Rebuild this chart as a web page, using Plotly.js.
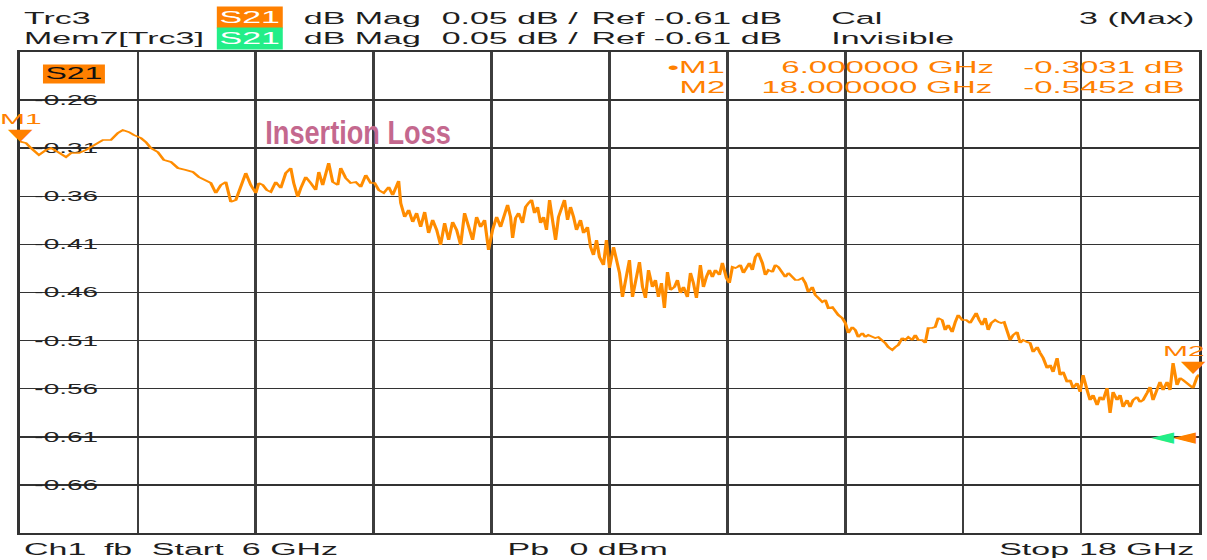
<!DOCTYPE html>
<html>
<head>
<meta charset="utf-8">
<script src="https://cdn.plot.ly/plotly-3.0.1.min.js"></script>
<style>
  html, body { margin:0; padding:0; background:#fff; overflow:hidden; width:1207px; height:560px; }
  /* the instrument screen is a horizontally stretched capture: draw at half width and stretch */
  #chart { width:604px; height:560px; transform:scale(1.99834,1); transform-origin:0 0; }
  /* the overlaid caption is not stretched in the reference */
  #chart g.annotation[data-index="0"] text { transform-box:fill-box; transform-origin:50% 50%; transform:scaleX(0.4); }
</style>
</head>
<body>
<div id="chart"></div>
<script>
// ---------------- data ----------------
const freqGHz = [
  6.000,6.061,6.112,6.193,6.264,6.315,6.386,6.468,6.519,6.600,
  6.671,6.722,6.773,6.844,6.925,6.997,7.047,7.108,7.159,7.231,
  7.281,7.332,7.403,7.464,7.536,7.607,7.688,7.759,7.820,7.892,
  7.942,7.993,8.044,8.095,8.146,8.197,8.247,8.298,8.349,8.400,
  8.431,8.471,8.512,8.553,8.603,8.654,8.705,8.756,8.786,8.827,
  8.858,8.908,8.959,9.010,9.041,9.081,9.142,9.183,9.234,9.264,
  9.315,9.366,9.417,9.468,9.519,9.569,9.610,9.651,9.702,9.753,
  9.793,9.834,9.854,9.875,9.915,9.956,9.997,10.037,10.078,10.119,
  10.159,10.200,10.241,10.281,10.322,10.363,10.403,10.444,10.485,10.525,
  10.566,10.607,10.647,10.688,10.729,10.769,10.810,10.851,10.892,10.922,
  10.963,10.993,11.014,11.044,11.075,11.115,11.146,11.176,11.207,11.237,
  11.268,11.298,11.329,11.359,11.390,11.420,11.451,11.481,11.512,11.542,
  11.573,11.603,11.634,11.664,11.705,11.736,11.776,11.807,11.837,11.868,
  11.898,11.939,11.969,12.000,12.041,12.071,12.102,12.132,12.173,12.203,
  12.234,12.275,12.305,12.336,12.366,12.397,12.437,12.468,12.498,12.529,
  12.559,12.590,12.620,12.661,12.692,12.722,12.753,12.793,12.824,12.854,
  12.885,12.925,12.956,12.986,13.017,13.047,13.078,13.119,13.149,13.190,
  13.220,13.251,13.281,13.302,13.332,13.363,13.393,13.424,13.454,13.485,
  13.515,13.556,13.586,13.617,13.658,13.688,13.719,13.759,13.790,13.820,
  13.861,13.892,13.922,13.963,13.993,14.024,14.064,14.095,14.125,14.166,
  14.197,14.227,14.268,14.298,14.329,14.369,14.400,14.431,14.471,14.502,
  14.532,14.573,14.603,14.634,14.675,14.705,14.736,14.776,14.807,14.837,
  14.878,14.908,14.939,14.980,15.010,15.041,15.081,15.112,15.142,15.183,
  15.214,15.244,15.285,15.315,15.346,15.386,15.417,15.447,15.488,15.519,
  15.549,15.590,15.631,15.671,15.702,15.732,15.763,15.793,15.824,15.854,
  15.885,15.925,15.956,15.986,16.017,16.047,16.078,16.108,16.149,16.180,
  16.210,16.251,16.281,16.312,16.353,16.383,16.414,16.454,16.485,16.515,
  16.556,16.586,16.617,16.658,16.688,16.719,16.759,16.790,16.820,16.861,
  16.892,16.922,16.963,16.993,17.024,17.064,17.095,17.125,17.166,17.197,
  17.227,17.268,17.298,17.329,17.369,17.400,17.431,17.471,17.502,17.532,
  17.573,17.603,17.634,17.675,17.705,17.736,17.776,17.807,17.837,17.878,
  17.908,17.939,17.980,18.000
];
const s21dB = [
  -0.3031,-0.3046,-0.3098,-0.3171,-0.3119,-0.3098,-0.3140,-0.3192,-0.3150,-0.3150,
  -0.3119,-0.3088,-0.3046,-0.3015,-0.3015,-0.2942,-0.2911,-0.2932,-0.2963,-0.2994,
  -0.3036,-0.3098,-0.3140,-0.3223,-0.3243,-0.3306,-0.3327,-0.3347,-0.3399,-0.3431,
  -0.3462,-0.3566,-0.3483,-0.3451,-0.3659,-0.3638,-0.3514,-0.3358,-0.3483,-0.3566,
  -0.3462,-0.3483,-0.3535,-0.3555,-0.3451,-0.3514,-0.3358,-0.3306,-0.3462,-0.3607,
  -0.3514,-0.3399,-0.3462,-0.3535,-0.3347,-0.3483,-0.3254,-0.3451,-0.3483,-0.3306,
  -0.3410,-0.3462,-0.3451,-0.3503,-0.3379,-0.3462,-0.3462,-0.3535,-0.3566,-0.3503,
  -0.3587,-0.3503,-0.3441,-0.3670,-0.3815,-0.3742,-0.3867,-0.3774,-0.3919,-0.3763,
  -0.3982,-0.3846,-0.3950,-0.4106,-0.3878,-0.4054,-0.3867,-0.3950,-0.4106,-0.3774,
  -0.3919,-0.4054,-0.3815,-0.3919,-0.3846,-0.4158,-0.3950,-0.3815,-0.3919,-0.3815,
  -0.3690,-0.3815,-0.4034,-0.3826,-0.3774,-0.3878,-0.3711,-0.3670,-0.3638,-0.3774,
  -0.3711,-0.3878,-0.3815,-0.3950,-0.3638,-0.3846,-0.4054,-0.3815,-0.3711,-0.3638,
  -0.3846,-0.3711,-0.3815,-0.3950,-0.3846,-0.3982,-0.3919,-0.4127,-0.4210,-0.4054,
  -0.4231,-0.4314,-0.4054,-0.4345,-0.4127,-0.4283,-0.4397,-0.4647,-0.4439,-0.4262,
  -0.4647,-0.4470,-0.4283,-0.4543,-0.4657,-0.4366,-0.4543,-0.4470,-0.4647,-0.4501,
  -0.4761,-0.4387,-0.4574,-0.4543,-0.4470,-0.4605,-0.4543,-0.4647,-0.4397,-0.4501,
  -0.4657,-0.4314,-0.4543,-0.4439,-0.4366,-0.4439,-0.4366,-0.4418,-0.4293,-0.4449,
  -0.4501,-0.4335,-0.4345,-0.4335,-0.4314,-0.4397,-0.4335,-0.4293,-0.4366,-0.4231,
  -0.4189,-0.4293,-0.4418,-0.4366,-0.4387,-0.4314,-0.4335,-0.4387,-0.4439,-0.4397,
  -0.4449,-0.4470,-0.4470,-0.4449,-0.4501,-0.4595,-0.4543,-0.4626,-0.4657,-0.4699,
  -0.4678,-0.4761,-0.4751,-0.4803,-0.4834,-0.4865,-0.4917,-0.5021,-0.4959,-0.4990,
  -0.5063,-0.5021,-0.5063,-0.5042,-0.5063,-0.5073,-0.5063,-0.5094,-0.5125,-0.5167,
  -0.5198,-0.5167,-0.5146,-0.5073,-0.5094,-0.5063,-0.5094,-0.5042,-0.5094,-0.5094,
  -0.5125,-0.4969,-0.4969,-0.4959,-0.4865,-0.4886,-0.4990,-0.4938,-0.5011,-0.4907,
  -0.4834,-0.4886,-0.4886,-0.4917,-0.4865,-0.4813,-0.4886,-0.4938,-0.4865,-0.4990,
  -0.4917,-0.4886,-0.4907,-0.4917,-0.4907,-0.5011,-0.5094,-0.5042,-0.5011,-0.5125,
  -0.5094,-0.5115,-0.5125,-0.5219,-0.5167,-0.5229,-0.5281,-0.5385,-0.5354,-0.5426,
  -0.5281,-0.5458,-0.5426,-0.5530,-0.5510,-0.5593,-0.5541,-0.5634,-0.5458,-0.5614,
  -0.5718,-0.5666,-0.5770,-0.5686,-0.5718,-0.5593,-0.5853,-0.5634,-0.5718,-0.5666,
  -0.5790,-0.5718,-0.5790,-0.5718,-0.5686,-0.5738,-0.5718,-0.5645,-0.5582,-0.5718,
  -0.5614,-0.5530,-0.5614,-0.5530,-0.5614,-0.5333,-0.5562,-0.5489,-0.5510,-0.5541,
  -0.5562,-0.5593,-0.5479,-0.5452
];
const markerNames = ['M1', 'M2'];
const markerFreqGHz = [6, 18];
const markerDB = [-0.3031, -0.5452];
const yTickVals = [-0.26, -0.31, -0.36, -0.41, -0.46, -0.51, -0.56, -0.61, -0.66];
const yTickText = ['-0.26', '-0.31', '-0.36', '-0.41', '-0.46', '-0.51', '-0.56', '-0.61', '-0.66'];
const yRange = [-0.71, -0.21];
const refLevelDB = -0.61;
const dBPerDiv = 0.05;
const freqStepGHz = 1.2;
const traceName = 'S21';
const caption = 'Insertion Loss';

// ---------------- styling ----------------
const FONT = 'Liberation Sans, Arial, sans-serif';
const SYM = 'DejaVu Sans, sans-serif';
const INK = '#1e1e1e';
const ORANGE = '#ff8000';
const TRACE = '#ff8c00';
const GREEN = '#22ee88';

function label(text, x, y, xanchor, extra) {
  return Object.assign({
    text: text, xref: 'paper', yref: 'paper', x: x, y: y,
    xanchor: xanchor, yanchor: 'middle', showarrow: false, borderpad: 0,
    font: { family: FONT, size: 17, color: INK }
  }, extra || {});
}

const fStart = freqGHz[0];
const fStop = freqGHz[freqGHz.length - 1];
const refTxt = 'Ref ' + refLevelDB.toFixed(2) + ' dB';
const scaleTxt = dBPerDiv.toFixed(2) + ' dB /';

const row1 = 1.0696, row2 = 1.0291, rowB = -0.0333;

const annotations = [
  // index 0: caption (counter-scaled by CSS)
  { text: caption, xref: 'paper', yref: 'paper', x: 0.2871, y: 0.8337,
    xanchor: 'center', yanchor: 'middle', showarrow: false,
    font: { family: FONT, size: 34, color: '#c4688e', weight: 700 } },

  // header
  label('Trc3', 0.0017, row1, 'left'),
  label(traceName, 0.1955, 1.0708, 'center', { bgcolor: ORANGE, width: 32, height: 21, font: { family: FONT, size: 17, color: '#ffffff' } }),
  label('dB Mag', 0.2392, row1, 'left'),
  label(scaleTxt, 0.3554, row1, 'left'),
  label(refTxt, 0.4835, row1, 'left'),
  label('Cal', 0.6862, row1, 'left'),
  label('3 (Max)', 0.9983, row1, 'right'),

  label('Mem7[Trc3]', 0.0009, row2, 'left'),
  label(traceName, 0.1955, 1.0272, 'center', { bgcolor: GREEN, width: 32, height: 21, font: { family: FONT, size: 17, color: '#ffffff' } }),
  label('dB Mag', 0.2392, row2, 'left'),
  label(scaleTxt, 0.3554, row2, 'left'),
  label(refTxt, 0.4835, row2, 'left'),
  label('Invisible', 0.6862, row2, 'left'),

  // trace label inside the grid
  label(traceName, 0.0462, 0.9553, 'center', { bgcolor: ORANGE, width: 30, height: 18, font: { family: FONT, size: 16, color: '#111' } }),

  // footer
  label('Ch1', 0.0017, rowB, 'left'),
  label('fb', 0.0687, rowB, 'left'),
  label('Start', 0.1103, rowB, 'left'),
  label(fStart + ' GHz', 0.1866, rowB, 'left'),
  label('Pb', 0.4505, rowB, 'right'),
  label('0 dBm', 0.4652, rowB, 'left'),
  label('Stop', 0.8287, rowB, 'left'),
  label(fStop + ' GHz', 0.9983, rowB, 'right'),

  // reference level indicators at the right edge
  { text: '◀', xref: 'x', yref: 'y', x: fStop, y: refLevelDB, xanchor: 'right', yanchor: 'middle',
    showarrow: false, borderpad: 0, xshift: -11.5, font: { family: SYM, size: 15, color: GREEN } },
  { text: '◀', xref: 'x', yref: 'y', x: fStop, y: refLevelDB, xanchor: 'right', yanchor: 'middle',
    showarrow: false, borderpad: 0, font: { family: SYM, size: 15, color: ORANGE } }
];

// marker readout and marker symbols
const readY = [0.9688, 0.9272];
const last = markerNames.length - 1;
markerNames.forEach(function (name, i) {
  const mColor = { family: FONT, size: 16.5, color: ORANGE };
  annotations.push(label((i === 0 ? '•' : '') + name, 0.6000, readY[i], 'right', { font: mColor }));
  annotations.push(label(markerFreqGHz[i].toFixed(6) + ' GHz', 0.8270, readY[i], 'right', { font: mColor }));
  annotations.push(label(markerDB[i].toFixed(4) + ' dB', 0.9906, readY[i], 'right', { font: mColor }));
  // the last marker sits on the right border: keep its symbol and name inside the picture
  annotations.push({ text: '▼', xref: 'x', yref: 'y', x: markerFreqGHz[i], y: markerDB[i],
    xanchor: 'center', yanchor: 'bottom', yshift: -3, xshift: (i === last ? -2.5 : 0),
    showarrow: false, borderpad: 0,
    font: { family: SYM, size: 16, color: ORANGE } });
  annotations.push({ text: name, xref: 'x', yref: 'y', x: markerFreqGHz[i], y: markerDB[i],
    xanchor: (i === last ? 'right' : 'center'), xshift: (i === last ? 3.5 : 0),
    yanchor: 'bottom', yshift: 14, showarrow: false, borderpad: 0,
    font: { family: FONT, size: 15, color: ORANGE } });
});

// white gaps in the horizontal grid behind the value labels
const shapes = yTickVals.map(function (v) {
  return { type: 'rect', layer: 'between', xref: 'paper', x0: 0.0102, x1: 0.0730,
    yref: 'y', ysizemode: 'pixel', yanchor: v, y0: -6, y1: 6,
    fillcolor: '#ffffff', line: { width: 0 } };
});

const traces = [{
  type: 'scatter', mode: 'lines', name: traceName,
  x: freqGHz, y: s21dB,
  line: { color: TRACE, width: 1.6 },
  hoverinfo: 'skip'
}];

const layout = {
  width: 604, height: 560,
  margin: { l: 10, r: 4, t: 52, b: 27, pad: 0 },
  paper_bgcolor: '#ffffff', plot_bgcolor: '#ffffff',
  showlegend: false,
  xaxis: {
    range: [fStart, fStop], tick0: fStart, dtick: freqStepGHz,
    showticklabels: false, ticks: '', zeroline: false,
    showgrid: true, gridcolor: '#3d3d3d', gridwidth: 1.3,
    showline: true, mirror: true, linecolor: '#333', linewidth: 2,
    layer: 'below traces', fixedrange: true
  },
  yaxis: {
    range: yRange, tickvals: yTickVals, ticktext: yTickText,
    ticklabelposition: 'inside', ticklabelstandoff: 7, ticks: '',
    tickfont: { family: FONT, size: 14, color: '#222' },
    zeroline: false, showgrid: true, gridcolor: '#333', gridwidth: 1.5,
    showline: true, mirror: true, linecolor: '#333', linewidth: 1.4,
    layer: 'below traces', fixedrange: true
  },
  shapes: shapes,
  annotations: annotations
};

Plotly.newPlot('chart', traces, layout, { staticPlot: true, displayModeBar: false });
</script>
</body>
</html>
